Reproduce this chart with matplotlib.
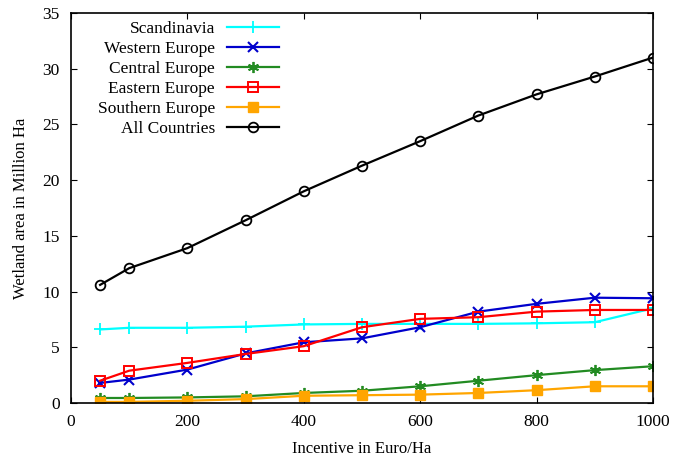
import matplotlib
matplotlib.use("Agg")
import matplotlib.pyplot as plt

plt.rcParams['font.family'] = ['Liberation Serif', 'DejaVu Serif']

incentive = [50, 100, 200, 300, 400, 500, 600, 700, 800, 900, 1000]
scandinavia = [6.6, 6.75, 6.75, 6.85, 7.05, 7.1, 7.1, 7.1, 7.15, 7.25, 8.5]
western = [1.8, 2.1, 3.0, 4.45, 5.45, 5.8, 6.8, 8.2, 8.9, 9.45, 9.4]
central = [0.45, 0.45, 0.5, 0.6, 0.9, 1.1, 1.5, 2.0, 2.5, 2.95, 3.3]
eastern = [2.0, 2.9, 3.6, 4.4, 5.1, 6.8, 7.55, 7.7, 8.2, 8.35, 8.35]
southern = [0.1, 0.1, 0.2, 0.35, 0.65, 0.7, 0.75, 0.9, 1.15, 1.5, 1.5]
all_countries = [10.6, 12.1, 13.9, 16.4, 19.0, 21.3, 23.5, 25.8, 27.7, 29.3, 31.0]

fig = plt.figure(figsize=(6.75, 4.61), dpi=100)
ax = fig.add_axes([71/675, 1 - 403/461, 582/675, 390/461])

ax.plot(incentive, scandinavia, color='cyan', marker='+', ms=9, mew=1.3, lw=1.6, label='Scandinavia')
ax.plot(incentive, western, color='#0000cc', marker='x', ms=7.5, mew=1.5, lw=1.6, label='Western Europe')
ax.plot(incentive, central, color='#228b22', marker=(6, 2, 0), ms=8, mew=1.3, lw=1.6, label='Central Europe')
ax.plot(incentive, eastern, color='red', marker='s', ms=7, mfc='none', mew=1.4, lw=1.6, label='Eastern Europe')
ax.plot(incentive, southern, color='orange', marker='s', ms=7, lw=1.6, label='Southern Europe')
ax.plot(incentive, all_countries, color='black', marker='o', ms=7, mfc='none', mew=1.3, lw=1.6, label='All Countries')

ax.set_xlim(0, 1000)
ax.set_ylim(0, 35)
ax.set_xticks(range(0, 1001, 200))
ax.set_yticks(range(0, 36, 5))
ax.tick_params(direction='in', top=True, right=True, length=4, labelsize=12.5, pad=8)
for s in ax.spines.values():
    s.set_linewidth(1.2)

ax.set_xlabel('Incentive in Euro/Ha', fontsize=12, labelpad=8)
ax.set_ylabel('Wetland area in Million Ha', fontsize=12, labelpad=10)

ax.legend(loc='upper left', bbox_to_anchor=(0.025, 1.01), frameon=False, markerfirst=False,
          fontsize=12.5, handlelength=3.0, labelspacing=0.22, borderaxespad=0.3,
          handletextpad=0.7)

fig.savefig('out.png', dpi=100)
